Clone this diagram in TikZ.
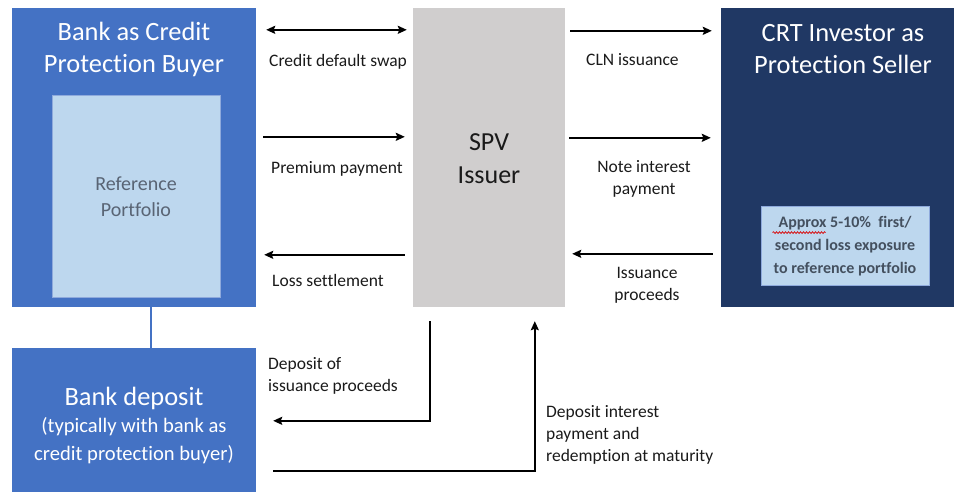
\documentclass[tikz,border=0pt]{standalone}
\usepackage{fontspec}
\setmainfont{Carlito}[Ligatures={NoCommon}]
\usetikzlibrary{arrows.meta,decorations.pathmorphing}

\definecolor{bankblue}{HTML}{4472C4}
\definecolor{paleblue}{HTML}{BDD7EE}
\definecolor{paleedge}{HTML}{8FAADC}
\definecolor{spvgray}{HTML}{D0CECE}
\definecolor{navy}{HTML}{203864}
\definecolor{reftext}{HTML}{596474}
\definecolor{notetext}{HTML}{44505F}
\definecolor{labeltext}{HTML}{1A1A1A}

\tikzset{
  box/.style={draw=none, inner sep=0pt, minimum width=#1},
  flow/.style={draw=black, line width=2pt, -{Stealth[length=9pt,width=8pt,inset=1.5pt]}},
  flowboth/.style={draw=black, line width=2pt, {Stealth[length=9pt,width=8pt,inset=1.5pt]}-{Stealth[length=9pt,width=8pt,inset=1.5pt]}},
  lbl/.style={inner sep=0pt, text=labeltext, font=\fontsize{17.5}{22}\selectfont},
  title/.style={inner sep=0pt, text=white, align=center, font=\fontsize{26.4}{32}\selectfont},
}

\begin{document}
\begin{tikzpicture}[x=1pt, y=-1pt]
  \useasboundingbox (0,0) rectangle (956,491);
  \clip (0,0) rectangle (956,491);

  % parties
  \node[box=244pt, minimum height=299pt, fill=bankblue] (bank) at (134,157.5) {};
  \node[box=168pt, minimum height=202pt, fill=paleblue, draw=paleedge, line width=0.6pt] (ref) at (136,196) {};
  \node[box=152pt, minimum height=299pt, fill=spvgray] (spv) at (489,157.5) {};
  \node[box=233pt, minimum height=299pt, fill=navy] (crt) at (837.5,157.5) {};
  \node[box=168pt, minimum height=79pt, fill=paleblue, draw=paleedge, line width=0.8pt] (note) at (845,245.5) {};
  \node[box=244pt, minimum height=152pt, fill=bankblue] (deposit) at (134,424) {};

  % box texts
  \node[title] (banktitle) at (134,49) {Bank as Credit\\Protection Buyer};
  \node[title] (crttitle) at (843,49) {CRT Investor as\\Protection Seller};
  \node[inner sep=0pt, align=center, text=labeltext, font=\fontsize{26}{33}\selectfont] (spvtitle) at (489,159) {SPV\\Issuer};
  \node[inner sep=0pt, align=center, text=reftext, font=\fontsize{20}{26}\selectfont] (reftitle) at (136,197) {Reference\\Portfolio};
  \node[inner sep=0pt, text=white, font=\fontsize{26.4}{32}\selectfont] (deptitle) at (134,398) {Bank deposit};
  \node[inner sep=0pt, align=center, text=white, font=\fontsize{20.6}{28}\selectfont] (depsub) at (134,441) {(typically with bank as\\credit protection buyer)};
  \node[inner sep=0pt, align=center, text=notetext, font=\bfseries\fontsize{16}{23}\selectfont] (notetitle) at (845,246) {Approx 5-10\%\ \ first/\\second loss exposure\\to reference portfolio};
  % spell-check underline below the first word
  \draw[red!85!black, line width=0.7pt, decorate, decoration={snake, amplitude=0.9pt, segment length=3pt}]
    ([shift={(12,27)}]note.north west) -- ([shift={(65,27)}]note.north west);

  % link from bank to its deposit
  \draw[bankblue, line width=2.2pt] ([xshift=17pt]bank.south) -- ([xshift=17pt]deposit.north);

  % flows between bank and SPV
  \draw[flowboth] ([shift={(10,22)}]bank.north east) -- ([shift={(-6,22)}]spv.north west);
  \draw[flow] ([shift={(7,129)}]bank.north east) -- ([shift={(-8,129)}]spv.north west);
  \draw[flow] ([shift={(-8,247)}]spv.north west) -- ([shift={(8,247)}]bank.north east);

  % flows between SPV and investor
  \draw[flow] ([shift={(5,23)}]spv.north east) -- ([shift={(-9,23)}]crt.north west);
  \draw[flow] ([shift={(4,130)}]spv.north east) -- ([shift={(-10,130)}]crt.north west);
  \draw[flow] ([shift={(-8,246)}]crt.north west) -- ([shift={(7,246)}]spv.north east);

  % flows between SPV and deposit
  \draw[flow] ([shift={(17,14)}]spv.south west) |- ([shift={(17,73)}]deposit.north east);
  \draw[flow] ([shift={(17,123)}]deposit.north east) -| ([shift={(122,14)}]spv.south west);

  % flow labels
  \node[lbl, anchor=west] (l1) at (269,62) {Credit default swap};
  \node[lbl, anchor=west] (l2) at (271,169) {Premium payment};
  \node[lbl, anchor=west] (l3) at (272,280) {Loss settlement};
  \node[lbl, anchor=west] (l4) at (586,60) {CLN issuance};
  \node[lbl, align=center] (l5) at (644,179) {Note interest\\payment};
  \node[lbl, align=center] (l6) at (647,285) {Issuance\\proceeds};
  \node[lbl, align=left, anchor=west] (l7) at (268,376) {Deposit of\\issuance proceeds};
  \node[lbl, align=left, anchor=west] (l8) at (546,435) {Deposit interest\\payment and\\redemption at maturity};
\end{tikzpicture}
\end{document}
